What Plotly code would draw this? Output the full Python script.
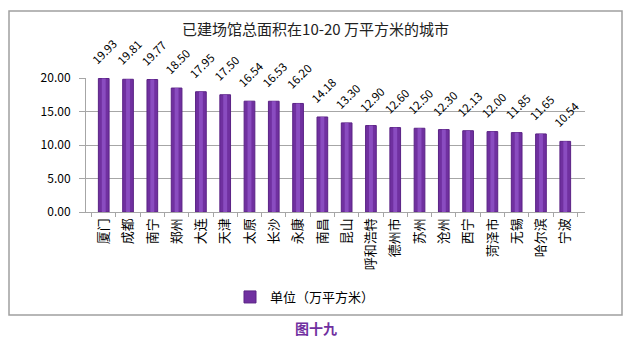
import plotly.graph_objects as go

# Cities whose built venue area is between 10 and 20 (10k m²)
cities = ["厦门", "成都", "南宁", "郑州", "大连", "天津", "太原", "长沙", "永康", "南昌",
          "昆山", "呼和浩特", "德州市", "苏州", "沧州", "西宁", "菏泽市", "无锡", "哈尔滨", "宁波"]
area = [19.93, 19.81, 19.77, 18.50, 17.95, 17.50, 16.54, 16.53, 16.20, 14.18,
        13.30, 12.90, 12.60, 12.50, 12.30, 12.13, 12.00, 11.85, 11.65, 10.54]
series_name = "单位（万平方米）"
y_ticks = [0, 5, 10, 15, 20]

FONT = "Noto Sans CJK SC"
PURPLE = "#7030A0"

fig = go.Figure()

# main cylinder body
fig.add_trace(go.Bar(
    x=cities, y=area, name=series_name,
    width=0.44,
    marker=dict(color=PURPLE, line=dict(color="#5a2285", width=1)),
))
# lighter centre stripe for a rounded look
fig.add_trace(go.Bar(
    x=cities, y=area, showlegend=False, hoverinfo="skip",
    width=0.16, marker=dict(color="#8a4cc0", line=dict(width=0)),
))

# plot area in pixels: x 86..585, y 78..212
L, R, T, B = 86, 585, 78, 212
W, H = R - L, B - T

def px_x(p):
    return (p - L) / W

def px_y(p):
    return (B - p) / H

# slanted value labels above each bar
value_labels = [dict(x=c, y=v, text=f"{v:.2f}", textangle=-45,
                     xref="x", yref="y", showarrow=False,
                     xanchor="center", yanchor="middle", xshift=1, yshift=27,
                     font=dict(family=FONT, size=11.5, color="#000000"))
                for c, v in zip(cities, area)]

fig.update_layout(
    width=631, height=345,
    margin=dict(l=L, r=631 - R, t=T, b=345 - B),
    paper_bgcolor="white", plot_bgcolor="white",
    barmode="overlay",
    font=dict(family=FONT, color="#000000"),
    title=dict(text="已建场馆总面积在10-20 万平方米的城市",
               x=0.5, xref="container", xanchor="center",
               y=1 - 30 / 345, yref="container", yanchor="middle",
               font=dict(family=FONT, size=15, color="#222222")),
    legend=dict(orientation="h", x=px_x(305), xanchor="center",
                y=px_y(297), yanchor="middle",
                font=dict(family=FONT, size=13, color="#000000"),
                bgcolor="rgba(0,0,0,0)"),
    showlegend=True,
    xaxis=dict(
        type="category", tickangle=-90,
        tickfont=dict(family=FONT, size=13, color="#000000"),
        showline=True, linecolor="#a6a6a6", linewidth=1,
        ticks="outside", tickson="boundaries", ticklen=4, tickcolor="#a6a6a6",
        showgrid=False,
    ),
    yaxis=dict(
        range=[0, 20], tickvals=y_ticks, tickformat=".2f",
        tickfont=dict(family=FONT, size=12, color="#000000"),
        showline=True, linecolor="#a6a6a6", linewidth=1,
        ticks="outside", ticklen=6, tickcolor="#a6a6a6",
        ticklabelstandoff=6,
        showgrid=True, gridcolor="#a6a6a6", gridwidth=1,
        zeroline=False,
    ),
    shapes=[dict(type="rect", xref="paper", yref="paper",
                 x0=px_x(9), x1=px_x(622), y0=px_y(315), y1=px_y(11),
                 line=dict(color="#a0a0a0", width=1.5), fillcolor="rgba(0,0,0,0)",
                 layer="below")],
    annotations=value_labels + [dict(text="<b>图十九</b>", xref="paper", yref="paper",
                      x=px_x(316), y=px_y(328), xanchor="center", yanchor="middle",
                      showarrow=False,
                      font=dict(family=FONT, size=14, color="#7030A0"))],
)

fig.write_html("out.html")
